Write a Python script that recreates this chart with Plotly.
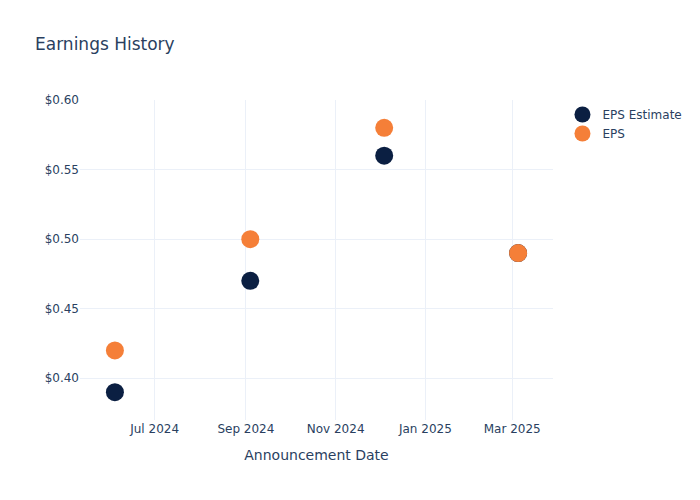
import plotly.graph_objects as go

# announcement dates and EPS values
dates = ["2024-06-04", "2024-09-04", "2024-12-04", "2025-03-05"]
eps_estimate = [0.39, 0.47, 0.56, 0.49]
eps_actual = [0.42, 0.50, 0.58, 0.49]

fig = go.Figure()
fig.add_trace(go.Scatter(x=dates, y=eps_estimate, mode="markers", name="EPS Estimate",
                         marker=dict(color="#0b1f42", size=18)))
fig.add_trace(go.Scatter(x=dates, y=eps_actual, mode="markers", name="EPS",
                         marker=dict(color="#f57f38", size=18)))

fig.update_layout(
    template="plotly_white",
    width=700, height=500,
    font=dict(family="DejaVu Sans"),
    # page body adds ~8px offset, so nudge everything up/left
    margin=dict(l=72, r=155, t=92, b=88),
    title=dict(text="Earnings History", x=0.0386, y=0.928, yanchor="middle"),
    xaxis=dict(title="Announcement Date"),
    yaxis=dict(tickformat="$.2f", range=[0.37, 0.60]),
)

fig.write_html("out.html")
